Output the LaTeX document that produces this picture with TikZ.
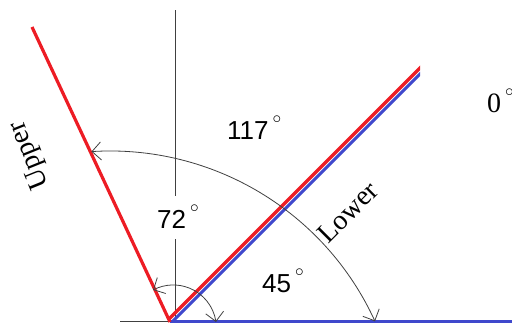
\documentclass[tikz,border=0pt]{standalone}
\usepackage{fontspec}
\setmainfont{Liberation Serif}
\newfontfamily\arialfont{Liberation Sans}
\usetikzlibrary{arrows.meta,bending}
\definecolor{pred}{HTML}{ED1C24}
\definecolor{pblue}{HTML}{3F48CC}
\newcommand{\degsym}{\hspace{4pt}\raisebox{16pt}{\fontsize{18}{18}\selectfont$\circ$}}
\begin{document}
\begin{tikzpicture}[x=1pt,y=1pt,
  redline/.style={pred,line width=3.2pt},
  blueline/.style={pblue,line width=3pt},
  guide/.style={black!75,line width=0.9pt},
  anglearc/.style={black!75,line width=0.8pt,{Straight Barb[length=9pt,width=18pt]}-{Straight Barb[length=9pt,width=18pt]}},
  sanslbl/.style={font=\arialfont\fontsize{26}{30}\selectfont,inner sep=0pt,anchor=base west},
  seriflbl/.style={font=\fontsize{28}{32}\selectfont,inner sep=0pt}]
\useasboundingbox (0,0) rectangle (512,323);
% guides
\coordinate (hl) at (120,1.5);
\coordinate (O) at (170,1.5);
\coordinate (hr) at (514,1.5);
\coordinate (vb) at (175,1);
\coordinate (vm1) at (175,84);
\coordinate (vm2) at (175,127);
\coordinate (vt) at (175,313);
\draw[guide] (hl) -- (O);
\draw[guide] (vb) -- (vm1);
\draw[guide] (vm2) -- (vt);
% base line (blue)
\draw[blueline] (O) -- (hr);
% lower line (blue + red)
\coordinate (lb0) at (172,1);
\coordinate (lb1) at (425,254);
\coordinate (lr0) at (169,4);
\coordinate (lr1) at (425,260);
\begin{scope}
  \clip (0,0) rectangle (420,323);
  \draw[blueline] (lb0) -- (lb1);
  \draw[redline] (lr0) -- (lr1);
\end{scope}
% upper line
\coordinate (u0) at (170,1);
\coordinate (u1) at (32,296);
\draw[redline] (u0) -- (u1);
% angle arcs
\draw[anglearc] (375,1.7) arc[start angle=24.5, end angle=93.7, radius=291];
\draw[anglearc] (216,1) arc[start angle=8.2, end angle=117.9, radius=43.2];
% labels
\node[sanslbl] (a117) at (227,183) {117\degsym};
\node[sanslbl] (a72) at (157,94) {72\degsym};
\node[sanslbl] (a45) at (262,30) {45\degsym};
\node[seriflbl,anchor=base west] (a0) at (487,210) {0\degsym};
\node[seriflbl,rotate=112] (upper) at (30,168) {Upper};
\node[seriflbl,rotate=45] (lower) at (348,111) {Lower};
\end{tikzpicture}
\end{document}
